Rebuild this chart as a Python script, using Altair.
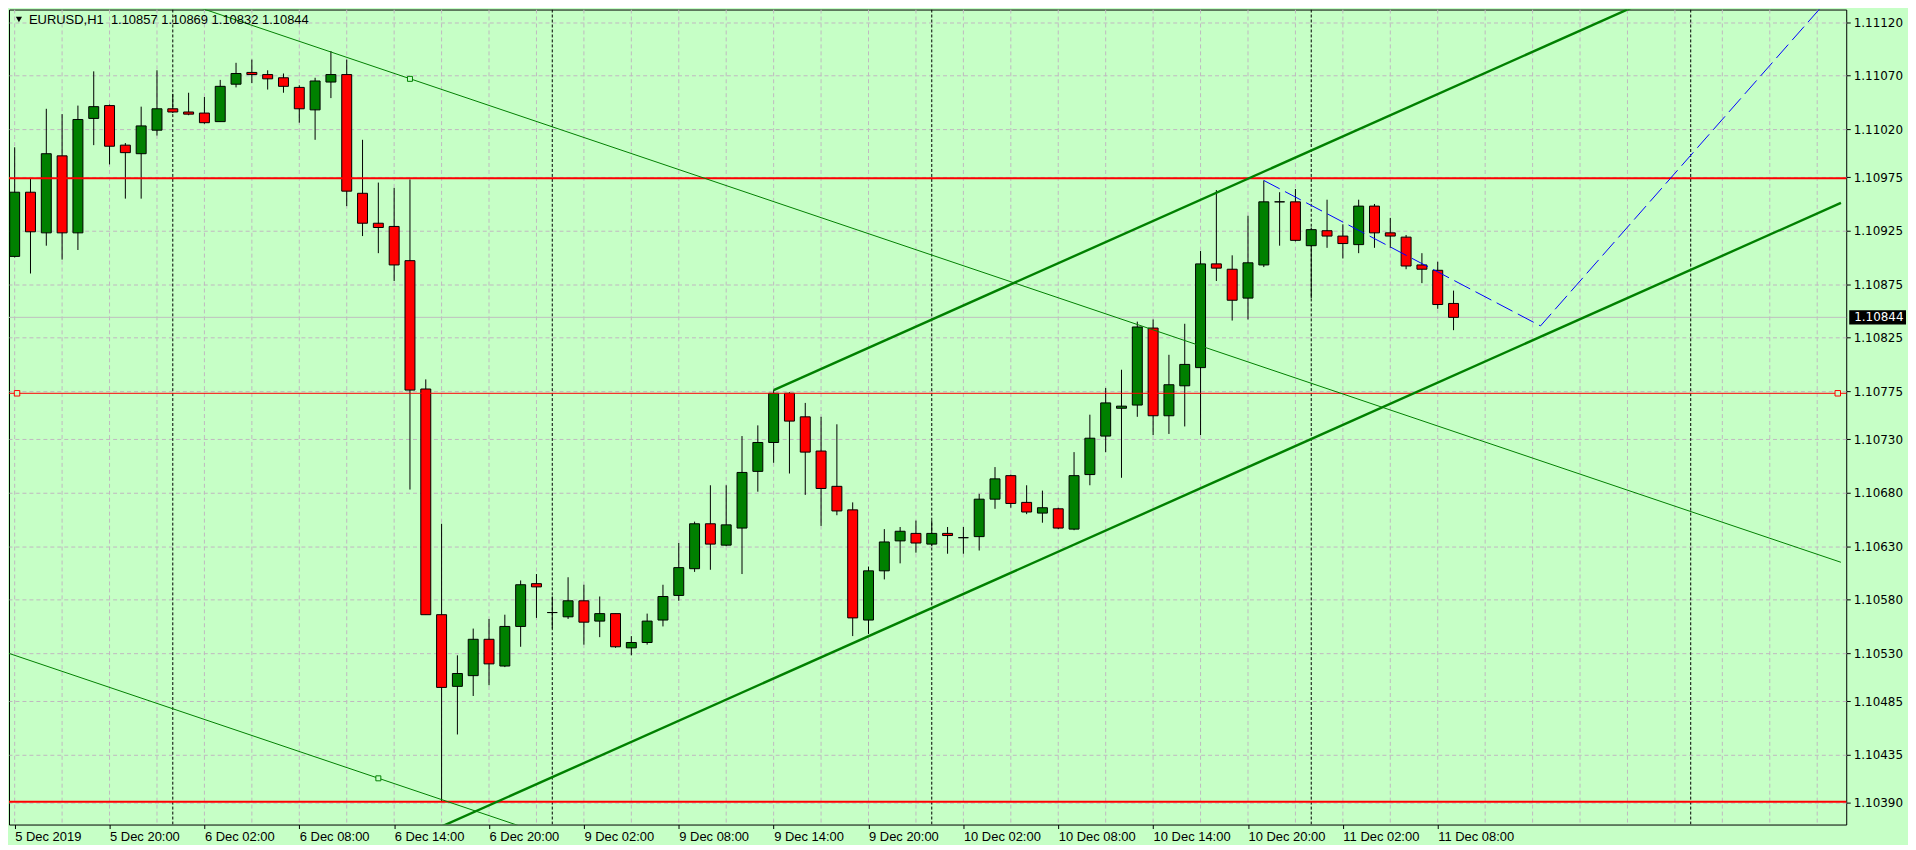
import altair as alt
import pandas as pd

symbol = "EURUSD"
timeframe = "H1"

# hourly bars, index 0 = 5 Dec 2019 14:00 ... 91 = 11 Dec 2019 09:00
opens = [1.10901, 1.10961, 1.10923, 1.10995, 1.10923, 1.11030, 1.11042, 1.11005, 1.10997, 1.11019,
         1.11039, 1.11036, 1.11035, 1.11027, 1.11062, 1.11073, 1.11071, 1.11068, 1.11059, 1.11038,
         1.11064, 1.11071, 1.10960, 1.10932, 1.10929, 1.10897, 1.10777, 1.10566, 1.10499, 1.10509,
         1.10543, 1.10518, 1.10555, 1.10595, 1.10568, 1.10564, 1.10579, 1.10560, 1.10567, 1.10535,
         1.10540, 1.10561, 1.10584, 1.10609, 1.10651, 1.10631, 1.10647, 1.10700, 1.10727, 1.10773,
         1.10751, 1.10719, 1.10686, 1.10664, 1.10561, 1.10607, 1.10635, 1.10642, 1.10632, 1.10642,
         1.10638, 1.10639, 1.10674, 1.10696, 1.10671, 1.10661, 1.10665, 1.10646, 1.10697, 1.10733,
         1.10759, 1.10762, 1.10834, 1.10752, 1.10780, 1.10797, 1.10894, 1.10889, 1.10862, 1.10893,
         1.10952, 1.10952, 1.10911, 1.10925, 1.10920, 1.10912, 1.10948, 1.10923, 1.10919, 1.10893,
         1.10888, 1.10857]
highs = [1.11003, 1.10974, 1.11039, 1.11034, 1.11042, 1.11074, 1.11043, 1.11007, 1.11041, 1.11075,
         1.11053, 1.11054, 1.11050, 1.11066, 1.11082, 1.11085, 1.11075, 1.11072, 1.11061, 1.11068,
         1.11093, 1.11085, 1.11010, 1.10970, 1.10965, 1.10973, 1.10786, 1.10651, 1.10528, 1.10553,
         1.10562, 1.10566, 1.10598, 1.10604, 1.10583, 1.10601, 1.10594, 1.10583, 1.10567, 1.10546,
         1.10567, 1.10594, 1.10633, 1.10653, 1.10687, 1.10687, 1.10733, 1.10743, 1.10776, 1.10774,
         1.10764, 1.10751, 1.10744, 1.10671, 1.10611, 1.10646, 1.10648, 1.10654, 1.10654, 1.10648,
         1.10648, 1.10679, 1.10704, 1.10697, 1.10687, 1.10682, 1.10666, 1.10718, 1.10753, 1.10778,
         1.10795, 1.10840, 1.10842, 1.10809, 1.10838, 1.10906, 1.10963, 1.10902, 1.10939, 1.10972,
         1.10961, 1.10964, 1.10928, 1.10954, 1.10931, 1.10954, 1.10950, 1.10937, 1.10921, 1.10904,
         1.10896, 1.10869]
lows = [1.10900, 1.10885, 1.10911, 1.10898, 1.10907, 1.11005, 1.10987, 1.10955, 1.10955, 1.11014,
        1.11035, 1.11033, 1.11025, 1.11027, 1.11059, 1.11063, 1.11057, 1.11054, 1.11026, 1.11010,
        1.11049, 1.10948, 1.10920, 1.10904, 1.10878, 1.10683, 1.10566, 1.10391, 1.10454, 1.10490,
        1.10500, 1.10517, 1.10536, 1.10563, 1.10553, 1.10562, 1.10538, 1.10545, 1.10535, 1.10528,
        1.10538, 1.10555, 1.10579, 1.10606, 1.10608, 1.10630, 1.10604, 1.10681, 1.10708, 1.10698,
        1.10678, 1.10649, 1.10659, 1.10546, 1.10548, 1.10599, 1.10614, 1.10624, 1.10630, 1.10623,
        1.10623, 1.10626, 1.10665, 1.10666, 1.10660, 1.10652, 1.10646, 1.10645, 1.10687, 1.10718,
        1.10694, 1.10751, 1.10734, 1.10735, 1.10742, 1.10734, 1.10878, 1.10841, 1.10842, 1.10891,
        1.10911, 1.10915, 1.10862, 1.10909, 1.10899, 1.10904, 1.10909, 1.10909, 1.10889, 1.10876,
        1.10852, 1.10832]
closes = [1.10961, 1.10924, 1.10997, 1.10923, 1.11029, 1.11041, 1.11004, 1.10998, 1.11023, 1.11039,
          1.11036, 1.11034, 1.11026, 1.11060, 1.11072, 1.11071, 1.11067, 1.11060, 1.11039, 1.11065,
          1.11071, 1.10962, 1.10932, 1.10928, 1.10893, 1.10776, 1.10566, 1.10498, 1.10511, 1.10543,
          1.10520, 1.10555, 1.10594, 1.10592, 1.10568, 1.10579, 1.10559, 1.10567, 1.10536, 1.10540,
          1.10560, 1.10583, 1.10610, 1.10651, 1.10632, 1.10650, 1.10699, 1.10727, 1.10773, 1.10747,
          1.10718, 1.10684, 1.10663, 1.10563, 1.10607, 1.10634, 1.10644, 1.10633, 1.10642, 1.10640,
          1.10638, 1.10674, 1.10693, 1.10670, 1.10662, 1.10666, 1.10647, 1.10696, 1.10731, 1.10764,
          1.10761, 1.10835, 1.10752, 1.10781, 1.10800, 1.10894, 1.10890, 1.10860, 1.10895, 1.10952,
          1.10952, 1.10916, 1.10926, 1.10920, 1.10913, 1.10948, 1.10923, 1.10920, 1.10892, 1.10889,
          1.10856, 1.10844]
bars = list(range(len(opens)))

x_tick_bars = [0, 6, 12, 18, 24, 30, 36, 42, 48, 54, 60, 66, 72, 78, 84, 90]
x_tick_labels = ["5 Dec 2019", "5 Dec 20:00", "6 Dec 02:00", "6 Dec 08:00", "6 Dec 14:00",
                 "6 Dec 20:00", "9 Dec 02:00", "9 Dec 08:00", "9 Dec 14:00", "9 Dec 20:00",
                 "10 Dec 02:00", "10 Dec 08:00", "10 Dec 14:00", "10 Dec 20:00",
                 "11 Dec 02:00", "11 Dec 08:00"]
y_tick_values = [1.11120, 1.11070, 1.11020, 1.10975, 1.10925, 1.10875, 1.10825, 1.10775,
                 1.10730, 1.10680, 1.10630, 1.10580, 1.10530, 1.10485, 1.10435, 1.10390]
vgrid_bars = list(range(0, 115, 3))
day_separator_bars = [10, 34, 58, 82, 106]

thick_hlines = [1.10974, 1.10391]
thin_hlines = [1.10773]
thin_hline_marker_bars = [0.15, 115.3]
bid_price = 1.10844

# rising channel (thick green)
chan_id = ["upper", "upper", "lower", "lower"]
chan_bars = [48, 104, 27, 115.5]
chan_prices = [1.10776, 1.11145, 1.10368, 1.10951]
# falling channel (thin green)
fall_id = ["upper", "upper", "lower", "lower"]
fall_bars = [-1, 115.5, -1, 115.5]
fall_prices = [1.11197, 1.10615, 1.10533, 1.09951]
fall_anchor_bars = [25, 23]
fall_anchor_prices = [1.11067, 1.10413]
# projection (blue dashed)
proj_bars = [79, 96.5, 115.5]
proj_prices = [1.10972, 1.10836, 1.11155]

W, H = 1844, 818
BG = "#C6FFC6"
GRID = "#C0B8C0"

xs = alt.Scale(domain=[-0.044, 115.52], nice=False, zero=False)
ys = alt.Scale(domain=[1.103698, 1.111318], nice=False, zero=False)

label_expr = " : ".join(f"datum.value == {b} ? '{t}'" for b, t in zip(x_tick_bars, x_tick_labels)) + " : ''"

x_axis = alt.Axis(values=x_tick_bars, labelExpr=label_expr, title=None, grid=False, domain=False,
                  ticks=True, tickSize=4, tickColor="black", labelAlign="left", labelBaseline="top",
                  labelPadding=2, labelFont="Liberation Sans", labelFontSize=13, labelColor="black",
                  labelOverlap=False, labelBound=False, labelFlush=False)
y_axis = alt.Axis(values=y_tick_values, format=".5f", orient="right", title=None, grid=True,
                  gridColor=GRID, gridDash=[4, 3], gridWidth=1, domain=False, tickSize=4,
                  tickColor="black", labelPadding=3, labelFont="DejaVu Sans", labelFontSize=12,
                  labelColor="black", labelOverlap=False, labelBound=False, labelFlush=False)


def X(f):
    return alt.X(f, type="quantitative", scale=xs, axis=x_axis)


def Y(f):
    return alt.Y(f, type="quantitative", scale=ys, axis=y_axis)


df = pd.DataFrame({"bar": bars, "open": opens, "high": highs, "low": lows, "close": closes})

vgrid = alt.Chart(pd.DataFrame({"bar": vgrid_bars})).mark_rule(
    color=GRID, strokeDash=[4, 3], strokeWidth=1, clip=True).encode(x=X("bar"))
seps = alt.Chart(pd.DataFrame({"bar": day_separator_bars})).mark_rule(
    color="black", strokeDash=[3, 2], strokeWidth=1, clip=True).encode(x=X("bar"))
bid = alt.Chart(pd.DataFrame({"price": [bid_price]})).mark_rule(
    color="#C0C0C0", strokeWidth=1).encode(y=Y("price"))

wicks = alt.Chart(df).mark_rule(color="black", strokeWidth=1, clip=True).encode(
    x=X("bar"), y=Y("low"), y2="high")
bodies = alt.Chart(df).mark_bar(size=10, stroke="black", strokeWidth=1, clip=True).encode(
    x=X("bar"), y=Y("open"), y2="close",
    color=alt.condition("datum.close >= datum.open", alt.value("#008000"), alt.value("#FF0000")))

red_thick = alt.Chart(pd.DataFrame({"price": thick_hlines})).mark_rule(
    color="#FF0000", strokeWidth=2).encode(y=Y("price"))
red_thin = alt.Chart(pd.DataFrame({"price": thin_hlines})).mark_rule(
    color="#FF0000", strokeWidth=1).encode(y=Y("price"))
red_marks = alt.Chart(pd.DataFrame({"bar": thin_hline_marker_bars,
                                    "price": thin_hlines * len(thin_hline_marker_bars)})).mark_square(
    size=30, fill=BG, stroke="#FF0000", strokeWidth=1, opacity=1).encode(x=X("bar"), y=Y("price"))

fall = alt.Chart(pd.DataFrame({"id": fall_id, "bar": fall_bars, "price": fall_prices})).mark_line(
    color="#008000", strokeWidth=1, clip=True).encode(x=X("bar"), y=Y("price"), detail="id:N")
fall_anch = alt.Chart(pd.DataFrame({"bar": fall_anchor_bars, "price": fall_anchor_prices})).mark_square(
    size=25, fill=BG, stroke="#008000", strokeWidth=1, opacity=1).encode(x=X("bar"), y=Y("price"))
chan = alt.Chart(pd.DataFrame({"id": chan_id, "bar": chan_bars, "price": chan_prices})).mark_line(
    color="#008000", strokeWidth=2.4, clip=True).encode(x=X("bar"), y=Y("price"), detail="id:N")
proj = alt.Chart(pd.DataFrame({"bar": proj_bars, "price": proj_prices})).mark_line(
    color="#0000FF", strokeWidth=1, strokeDash=[18, 6], clip=True).encode(x=X("bar"), y=Y("price"))

title_text = (f"{symbol},{timeframe}\u00a0 {opens[-1]:.5f} {highs[-1]:.5f} "
              f"{lows[-1]:.5f} {closes[-1]:.5f}")
title_df = pd.DataFrame({"t": [title_text]})
title = alt.Chart(title_df).mark_text(align="left", baseline="middle", font="Liberation Sans",
                                      fontSize=13, color="black").encode(
    x=alt.value(20), y=alt.value(11), text="t:N")
tri = alt.Chart(title_df).mark_point(shape="triangle-down", filled=True, color="black",
                                     size=38, opacity=1).encode(x=alt.value(10), y=alt.value(10))

cp_df = pd.DataFrame({"price": [bid_price], "lo": [bid_price - 0.000066],
                      "hi": [bid_price + 0.000066], "label": [f"{bid_price:.5f}"]})
cp_box = alt.Chart(cp_df).mark_rect(color="black").encode(
    x=alt.value(W + 3), x2=alt.value(W + 60), y=Y("lo"), y2="hi")
cp_txt = alt.Chart(cp_df).mark_text(align="left", baseline="middle", color="white",
                                    font="DejaVu Sans", fontSize=12).encode(
    x=alt.value(W + 8), y=Y("price"), text="label:N")

chart = alt.layer(
    vgrid, seps, bid, wicks, bodies, red_thick, red_thin, fall, chan, proj,
    red_marks, fall_anch, title, tri, cp_box, cp_txt
).properties(
    width=W, height=H, background=BG,
    padding={"left": 0, "top": 0, "right": 2, "bottom": 0}
).configure_view(stroke="black", strokeWidth=1, fill=BG)

chart.save("out.html", embed_options={"renderer": "svg", "actions": False})
